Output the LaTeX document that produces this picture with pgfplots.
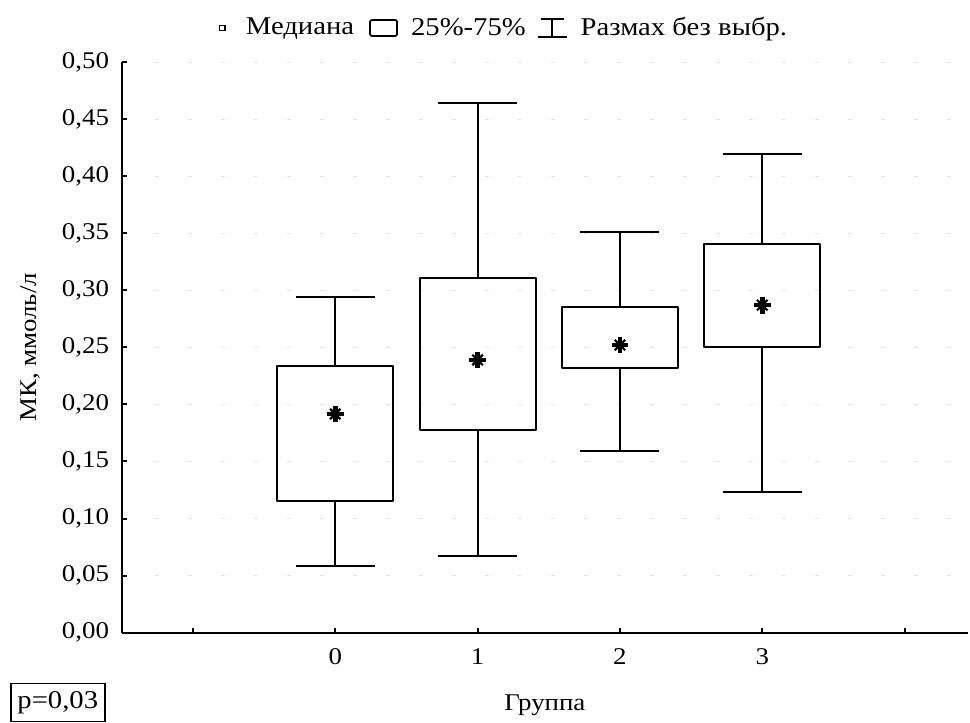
\documentclass[border=0pt]{standalone}
\usepackage{fontspec}
\setmainfont{Liberation Serif}[FakeStretch=1.12]
\usepackage{pgfplots}
\pgfplotsset{compat=1.18}
\usepgfplotslibrary{statistics}
\begin{document}
\begin{tikzpicture}[font=\fontsize{12}{14}\selectfont]
\useasboundingbox (0,0) rectangle (485pt,361.5pt);
\begin{axis}[
  at={(60.85pt,45.15pt)}, anchor=south west,
  scale only axis, width=423.15pt, height=285.35pt,
  xmin=-1.5, xmax=4.445, ymin=0, ymax=0.5,
  axis x line*=bottom, axis y line*=left,
  axis line style={line width=1pt, black},
  xtick={-1,0,1,2,3,4}, xticklabels={,0,1,2,3,},
  ytick={0,0.05,0.1,0.15,0.2,0.25,0.3,0.35,0.4,0.45,0.5},
  tick align=inside, major tick length=2.5pt,
  tick style={line width=1pt, black},
  ymajorgrids, grid style={black!10, line width=0.5pt, dash pattern=on 2pt off 14.5pt},
  yticklabel style={xshift=-2.8pt, /pgf/number format/.cd, fixed, fixed zerofill, precision=2, use comma, assume math mode=true},
  xticklabel style={yshift=-4.5pt},
  ylabel={МК, ммоль/л},
  ylabel style={at={(axis description cs:-0.108,0.5)}, anchor=center},
  xlabel={Группа},
  xlabel style={at={(axis description cs:0.5,-0.1265)}, anchor=center},
  legend style={at={(axis description cs:0.4476,1.0596)}, anchor=center, draw=none, fill=none,
    font=\fontsize{12.8}{15}\selectfont,
    inner sep=0pt, nodes={inner sep=0pt},
    /tikz/every even column/.append style={column sep=5.5pt},
    /tikz/every odd column/.append style={column sep=5pt}},
  legend columns=-1,
  boxplot/draw direction=y,
  boxplot/every median/.style={draw=none},
]
\addlegendimage{legend image code/.code={\path[draw=none,fill=none] (0pt,0pt) rectangle (11pt,0pt); \draw[line width=0.6pt] (2.7pt,-1.4pt) rectangle (5.5pt,1.4pt);}}
\addlegendentry{Медиана}
\addlegendimage{legend image code/.code={\path[draw=none,fill=none] (0pt,0pt) rectangle (18pt,0pt); \draw[line width=0.9pt, rounded corners=1pt] (2.5pt,-4pt) rectangle (16pt,4pt);}}
\addlegendentry{25\%-75\%}
\addlegendimage{legend image code/.code={\path[draw=none,fill=none] (0pt,0pt) rectangle (16.5pt,0pt); \draw[line width=0.9pt] (1.5pt,4.5pt) -- (13pt,4.5pt) (7.25pt,4.5pt) -- (7.25pt,-4.5pt) (0pt,-4.5pt) -- (14.5pt,-4.5pt);}}
\addlegendentry{Размах без выбр.}

\addplot[forget plot, black, line width=1pt, line join=round,
  boxplot prepared={draw position=0, lower whisker=0.0584, lower quartile=0.1154,
    median=0.1916, upper quartile=0.2337, upper whisker=0.2944,
    box extend=0.815, whisker extend=0.555}] coordinates {};
\addplot[forget plot, black, line width=1pt, line join=round,
  boxplot prepared={draw position=1, lower whisker=0.067, lower quartile=0.1776,
    median=0.239, upper quartile=0.3105, upper whisker=0.4638,
    box extend=0.815, whisker extend=0.555}] coordinates {};
\addplot[forget plot, black, line width=1pt, line join=round,
  boxplot prepared={draw position=2, lower whisker=0.159, lower quartile=0.2316,
    median=0.252, upper quartile=0.2856, upper whisker=0.3508,
    box extend=0.815, whisker extend=0.555}] coordinates {};
\addplot[forget plot, black, line width=1pt, line join=round,
  boxplot prepared={draw position=3, lower whisker=0.123, lower quartile=0.250,
    median=0.287, upper quartile=0.3405, upper whisker=0.419,
    box extend=0.815, whisker extend=0.555}] coordinates {};

\addplot[forget plot, only marks, black, mark=+, mark size=4.2pt, line width=2.3pt]
  coordinates {(0,0.1916) (1,0.239) (2,0.252) (3,0.287)};
\addplot[forget plot, only marks, black, mark=x, mark size=3.7pt, line width=1.1pt]
  coordinates {(0,0.1916) (1,0.239) (2,0.252) (3,0.287)};
\end{axis}
\node[draw, line width=0.8pt, anchor=north west, minimum width=47pt, minimum height=19pt, inner sep=0pt, font=\fontsize{12.8}{15}\selectfont] at (5pt,20.15pt) {p=0,03};
\end{tikzpicture}
\end{document}
